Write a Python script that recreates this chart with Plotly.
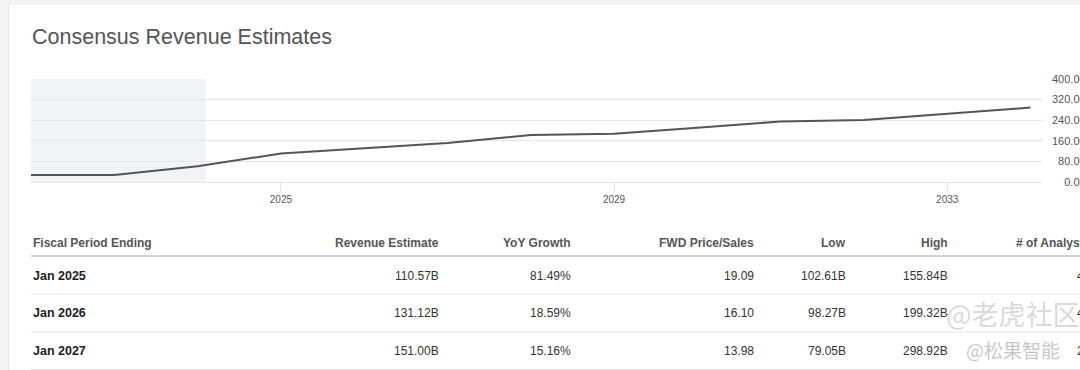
import plotly.graph_objects as go

# ---- chart data ----
fiscal_years = [2022, 2023, 2024, 2025, 2026, 2027, 2028, 2029, 2030, 2031, 2032, 2033, 2034]
revenue_b = [26.91, 26.97, 60.92, 110.57, 131.12, 151.00, 183.0, 187.0, 211.0, 235.0, 241.0, 265.0, 289.0]
actuals_end = 2024.1
y_tickvals = [0, 80, 160, 240, 320, 400]
y_ticktext = ["\u2007\u20070.00B", "\u200780.00B", "160.00B", "240.00B", "320.00B", "400.00B"]
x_tickvals = [2025, 2029, 2033]

# ---- table data ----
table_headers = ["Fiscal Period Ending", "Revenue Estimate", "YoY Growth", "FWD Price/Sales", "Low", "High", "# of Analysts"]
periods = ["Jan 2025", "Jan 2026", "Jan 2027"]
rev_est = ["110.57B", "131.12B", "151.00B"]
yoy = ["81.49%", "18.59%", "15.16%"]
fwd_ps = ["19.09", "16.10", "13.98"]
low = ["102.61B", "98.27B", "79.05B"]
high = ["155.84B", "199.32B", "298.92B"]
analysts = ["46", "46", "27"]

W, H = 1080, 370
ML, MR, MT, MB = 31, 37, 79, 188
PW = W - ML - MR
PH = H - MT - MB
plot_bottom = H - MB


def px(xp):
    return (xp - ML) / PW


def py(yp):
    return (plot_bottom - yp) / PH


FONT = "Liberation Sans, Arial, sans-serif"

fig = go.Figure()
fig.add_trace(go.Scatter(
    x=fiscal_years, y=revenue_b, mode="lines",
    line=dict(color="#555555", width=2), hoverinfo="skip", showlegend=False,
))

shapes = []
# card background
shapes.append(dict(type="rect", xref="paper", yref="paper", layer="below",
                   x0=px(9), x1=px(W), y0=py(H), y1=py(5),
                   fillcolor="white", line=dict(width=0)))
# left frame line
shapes.append(dict(type="line", xref="paper", yref="paper", layer="below",
                   x0=px(8.5), x1=px(8.5), y0=py(H), y1=py(5),
                   line=dict(color="#e4e4e4", width=1)))
# shaded actuals region
shapes.append(dict(type="rect", xref="x", yref="paper", layer="below",
                   x0=fiscal_years[0], x1=actuals_end, y0=0, y1=1,
                   fillcolor="#f2f3f6", line=dict(width=0)))

annotations = []
annotations.append(dict(text="Consensus Revenue Estimates", xref="paper", yref="paper",
                        x=px(30), y=py(37), xanchor="left", yanchor="middle", showarrow=False,
                        font=dict(family=FONT, size=21.5, color="#555555")))

# table layout
col_right = [None, 441, 573, 756, 848, 950, 1093]
header_y = 243
row_y = [276, 313, 351]
header_line_y = 256
sep_y = [294, 332, 369.5]

for i, h in enumerate(table_headers):
    if i == 0:
        annotations.append(dict(text="<b>%s</b>" % h, xref="paper", yref="paper", x=px(31), y=py(header_y),
                                xanchor="left", yanchor="middle", showarrow=False,
                                font=dict(family=FONT, size=12, color="#555555")))
    else:
        annotations.append(dict(text="<b>%s</b>" % h, xref="paper", yref="paper", x=px(col_right[i]), y=py(header_y),
                                xanchor="right", yanchor="middle", showarrow=False,
                                font=dict(family=FONT, size=12, color="#555555")))

cols = [rev_est, yoy, fwd_ps, low, high, analysts]
for r, p in enumerate(periods):
    annotations.append(dict(text="<b>%s</b>" % p, xref="paper", yref="paper", x=px(31), y=py(row_y[r]),
                            xanchor="left", yanchor="middle", showarrow=False,
                            font=dict(family=FONT, size=12.5, color="#222222")))
    for c, col in enumerate(cols):
        annotations.append(dict(text=col[r], xref="paper", yref="paper", x=px(col_right[c + 1]), y=py(row_y[r]),
                                xanchor="right", yanchor="middle", showarrow=False,
                                font=dict(family=FONT, size=12, color="#333333")))

shapes.append(dict(type="line", xref="paper", yref="paper", x0=px(31), x1=px(W),
                   y0=py(header_line_y), y1=py(header_line_y), line=dict(color="#c4c4c4", width=1.5)))
for s in sep_y:
    shapes.append(dict(type="line", xref="paper", yref="paper", x0=px(31), x1=px(W),
                       y0=py(s), y1=py(s), line=dict(color="#e6e6e6", width=1)))

# watermark
annotations.append(dict(text="@老虎社区", xref="paper", yref="paper", x=px(1082), y=py(313),
                        xanchor="right", yanchor="middle", showarrow=False,
                        font=dict(family="Noto Sans CJK SC", size=27, color="rgba(170,170,170,0.45)")))
annotations.append(dict(text="@松果智能", xref="paper", yref="paper", x=px(1062), y=py(349),
                        xanchor="right", yanchor="middle", showarrow=False,
                        font=dict(family="Noto Sans CJK SC", size=19, color="rgba(140,140,140,0.5)")))

fig.update_layout(
    width=W, height=H,
    margin=dict(l=ML, r=MR, t=MT, b=MB, pad=0, autoexpand=False),
    paper_bgcolor="#f3f3f3", plot_bgcolor="white",
    font=dict(family=FONT, color="#555555"),
    shapes=shapes, annotations=annotations,
    xaxis=dict(range=[2022, 2034.15], tickvals=x_tickvals, ticktext=[str(v) for v in x_tickvals],
               showgrid=False, zeroline=False, showline=True, linecolor="#e6e6e6", linewidth=1,
               ticks="outside", ticklen=8, tickcolor="#e0e0e0", tickwidth=1, automargin=False,
               tickfont=dict(size=10, color="#555555"), fixedrange=True),
    yaxis=dict(range=[0, 400], side="right", tickvals=y_tickvals, ticktext=y_ticktext,
               showgrid=True, gridcolor="#e6e6e6", gridwidth=1, zeroline=False,
               ticks="", ticklabelstandoff=8, automargin=False,
               tickfont=dict(size=11, color="#555555"), fixedrange=True),
)

fig.write_html("out.html", config={"displayModeBar": False},
               post_script="document.body.style.margin='0';document.body.style.overflow='hidden';")
